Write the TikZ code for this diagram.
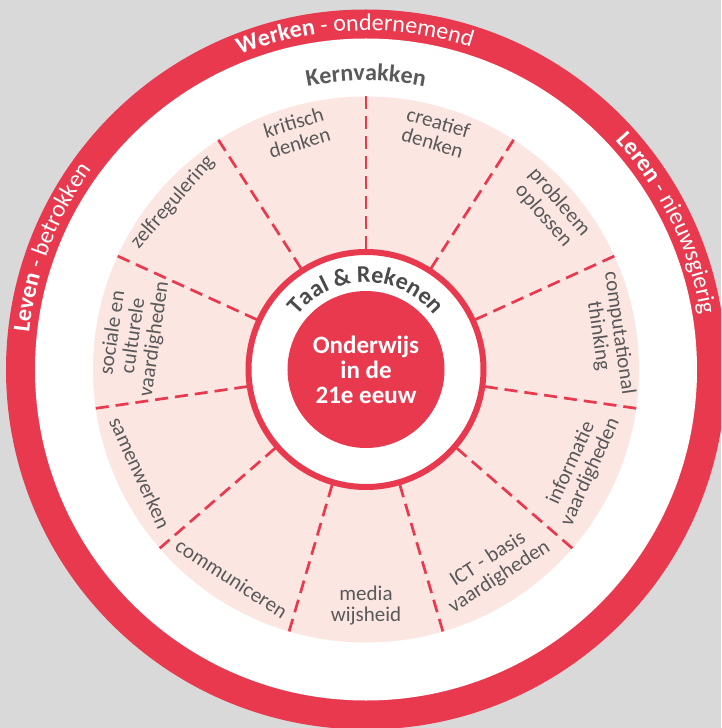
\documentclass[tikz,border=0pt]{standalone}
\usepackage{fontspec}
\setmainfont{Carlito}
\usetikzlibrary{decorations.text}
\definecolor{wred}{HTML}{E8394E}
\definecolor{wpink}{HTML}{FCE6E2}
\definecolor{wbg}{HTML}{D9D9D9}
\definecolor{wtext}{HTML}{595959}
\definecolor{wdark}{HTML}{4A4A4A}
\newcommand\ringbf{\fontsize{24}{24}\selectfont\bfseries}
\newcommand\ringmd{\fontsize{24}{24}\selectfont\mdseries}
\newcommand\kernbf{\fontsize{24}{24}\selectfont\bfseries}
\newcommand\taalbf{\fontsize{24}{24}\selectfont\bfseries}
\tikzset{
  sectorline/.style={wred, line width=2.7pt, dash pattern=on 13pt off 7pt},
  lab/.style={text=wtext, align=center, inner sep=0pt, font=\fontsize{21}{21}\selectfont},
  uplab/.style={lab, anchor=north},
  lowlab/.style={lab, anchor=south},
  coretext/.style={text=white, align=center, font=\fontsize{25}{25}\selectfont\bfseries}
}
\begin{document}
\begin{tikzpicture}[x=1pt,y=1pt]
\fill[wbg] (-366,-358.5) rectangle (355,369.5);
\useasboundingbox (-366,-358.5) rectangle (355,369.5);
\begin{scope}
\clip (-366,-358.5) rectangle (355,369.5);
\fill[wred] (0,0) circle (360);
\end{scope}
\fill[white] (0,0) circle (331);
\fill[wpink] (0,0) circle (273);
% sector lines
\foreach \a in {90,57.27,24.55,-8.18,-40.91,-73.64,-106.36,-139.09,-171.82,155.45,122.73} {
  \draw[sectorline] (\a:273) -- (\a:120);
}
% inner circle
\draw[wred, line width=6pt, fill=white] (0,0) circle (117.5);
\fill[wred] (0,0) circle (78.5);
\node[coretext] (core) at (0,0) {Onderwijs\\in de\\21e eeuw};
% labels
\node[uplab, rotate=16.36] (l1) at (106.36:265) {kritisch\\denken};
\node[uplab, rotate=-16.36] (l2) at (73.64:265) {creatief\\denken};
\node[uplab, rotate=-49.09] (l3) at (40.91:265) {probleem\\oplossen};
\node[uplab, rotate=-81.82] (l4) at (8.18:265) {computational\\thinking};
\node[lowlab, rotate=65.45] (l5) at (-24.55:256) {informatie\\vaardigheden};
\node[lowlab, rotate=32.73] (l6) at (-57.27:256) {ICT - basis\\vaardigheden};
\node[lowlab, rotate=0] (l7) at (-90:256) {media\\wijsheid};
\node[lowlab, rotate=-32.73] (l8) at (-122.73:256) {communiceren};
\node[lowlab, rotate=-65.45] (l9) at (-155.45:256) {samenwerken};
\node[uplab, rotate=81.82] (l10) at (171.82:265) {sociale en\\culturele\\vaardigheden};
\node[uplab, rotate=49.09] (l11) at (139.09:265) {zelfregulering};
% ring texts
\path[decorate, decoration={text along path, text align=center, text color=white,
  text={|\ringbf|Werken|\ringmd| - ondernemend}}]
  (141.9:339) arc[start angle=141.9, end angle=41.9, radius=339];
\path[decorate, decoration={text along path, text align=center, text color=white,
  text={|\ringbf|Leren|\ringmd| - nieuwsgierig}}]
  (75.9:339) arc[start angle=75.9, end angle=-24.1, radius=339];
\path[decorate, decoration={text along path, text align=center, text color=white,
  text={|\ringbf|Leven|\ringmd| - betrokken}}]
  (208.8:339) arc[start angle=208.8, end angle=108.8, radius=339];
\path[decorate, decoration={text along path, text align=center, text color=wtext,
  text={|\kernbf|Kernvakken}}]
  (120:289) arc[start angle=120, end angle=60, radius=289];
\path[decorate, decoration={text along path, text align=center, text color=wdark,
  text={|\taalbf|Taal {\&} Rekenen}}]
  (165:87) arc[start angle=165, end angle=15, radius=87];
\end{tikzpicture}
\end{document}
